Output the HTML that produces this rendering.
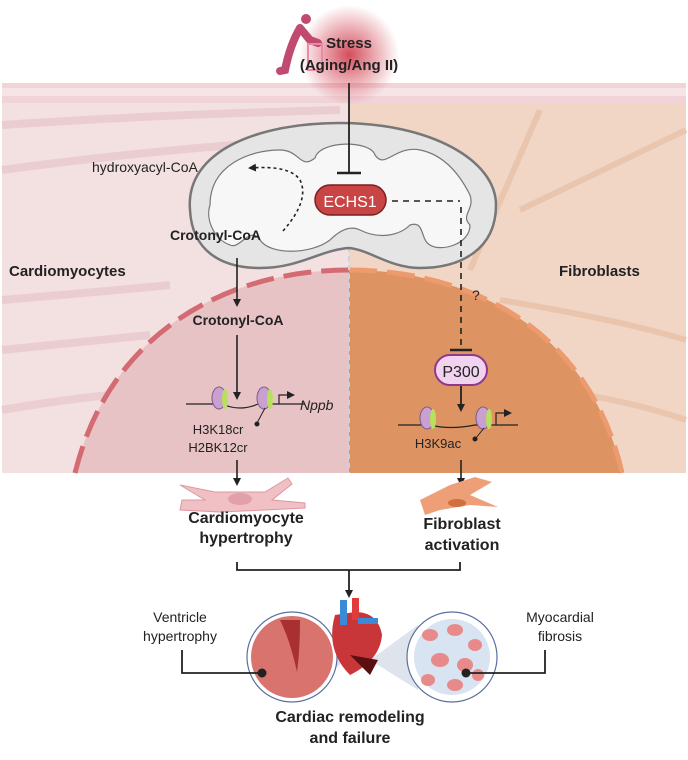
<!DOCTYPE html>
<html><head><meta charset="utf-8"><style>
body{margin:0;background:#fff}
svg text{font-family:"Liberation Sans",sans-serif}
</style></head><body>
<svg width="688" height="755" viewBox="0 0 688 755" xmlns="http://www.w3.org/2000/svg">
<defs>
<radialGradient id="glow"><stop offset="0" stop-color="#d03a4a" stop-opacity=".9"/><stop offset="1" stop-color="#d03a4a" stop-opacity="0"/></radialGradient>
<marker id="ah" markerWidth="8" markerHeight="8" refX="6" refY="4" orient="auto" markerUnits="userSpaceOnUse"><path d="M0,0 L8,4 L0,8z" fill="#222"/></marker>
<clipPath id="nuc"><path d="M75,473 C110,330 230,270 349,270 C470,270 590,330 622,473Z"/></clipPath>
</defs>
<!-- top band -->
<rect x="2" y="83" width="684" height="20" fill="#f0d4d8"/>
<rect x="2" y="88" width="684" height="8" fill="#f6e4e6"/>
<!-- panels -->
<rect x="2" y="103" width="347" height="370" fill="#f3e0e1"/>
<rect x="349" y="103" width="337" height="370" fill="#f1d6c6"/>
<g stroke="#e9c9cc" stroke-width="8" fill="none" opacity=".8">
<path d="M2,125 Q150,115 340,110"/><path d="M2,170 Q150,150 300,140"/><path d="M2,300 Q120,290 170,285"/><path d="M2,350 Q100,340 150,335"/><path d="M2,410 Q60,400 110,395"/>
</g>
<g stroke="#e9c2a8" stroke-width="6" fill="none" opacity=".8">
<path d="M470,270 L540,110"/><path d="M520,210 L686,130"/><path d="M460,380 Q600,390 686,420"/><path d="M500,300 Q620,320 686,340"/>
</g>
<!-- nucleus -->
<g clip-path="url(#nuc)"><rect x="0" y="260" width="349" height="220" fill="#e8c3c5"/><rect x="349" y="260" width="340" height="220" fill="#de9462"/></g>
<path d="M75,473 C110,330 230,270 349,270" fill="none" stroke="#d46a72" stroke-width="5" stroke-dasharray="28,10"/>
<path d="M349,270 C470,270 590,330 622,473" fill="none" stroke="#ed9a6e" stroke-width="5" stroke-dasharray="28,10"/>
<line x1="349" y1="103" x2="349" y2="473" stroke="#c9d3e0" stroke-width="2" stroke-dasharray="5,4"/>
<!-- mitochondrion -->
<path d="M190,210 C185,150 260,123 340,123 C430,123 496,160 496,205 C496,250 460,268 420,268 C390,268 370,250 349,248 C320,250 300,268 260,268 C220,268 192,250 190,210Z" fill="#e5e5e5" stroke="#777" stroke-width="2.5"/>
<path d="M210,205 C210,165 250,150 280,150 C300,150 300,170 315,158 C320,140 370,140 375,155 C385,170 395,145 420,150 C445,155 460,175 470,195 C475,210 460,215 470,225 C470,245 440,252 430,245 C420,240 425,220 410,225 C400,235 380,240 360,230 C350,225 340,230 330,240 C310,255 270,255 260,240 C250,225 240,250 230,245 C215,240 205,220 210,205Z" fill="#f7f7f7" stroke="#777" stroke-width="1.2"/>
<!-- stress -->
<circle cx="349" cy="55" r="50" fill="url(#glow)"/>
<circle cx="306" cy="19" r="5" fill="#c04a70"/>
<path d="M300,28 Q290,45 285,70 L280,71 M300,28 L310,40 L318,43" stroke="#c04a70" stroke-width="8" fill="none" stroke-linecap="round"/>
<rect x="308" y="44" width="14" height="26" fill="none" stroke="#e88aa8" stroke-width="2"/>
<text x="349" y="48" text-anchor="middle" font-size="15" font-weight="bold" fill="#222">Stress</text>
<text x="349" y="70" text-anchor="middle" font-size="15" font-weight="bold" fill="#222">(Aging/Ang II)</text>
<line x1="349" y1="83" x2="349" y2="173" stroke="#222" stroke-width="1.8"/>
<line x1="337" y1="173" x2="361" y2="173" stroke="#222" stroke-width="2.5"/>
<rect x="315" y="185" width="71" height="30" rx="15" fill="#c94545" stroke="#7a1f1f" stroke-width="1.5"/>
<text x="350" y="207" text-anchor="middle" font-size="16" fill="#fff">ECHS1</text>
<text x="92" y="172" font-size="14" fill="#222">hydroxyacyl-CoA</text>
<path d="M283,231 Q310,200 300,180 Q290,165 250,168" fill="none" stroke="#222" stroke-width="1.6" stroke-dasharray="3,3" marker-end="url(#ah)"/>
<text x="170" y="240" font-size="14" font-weight="bold" fill="#222">Crotonyl-CoA</text>
<text x="9" y="276" font-size="15" font-weight="bold" fill="#222">Cardiomyocytes</text>
<text x="559" y="276" font-size="15" font-weight="bold" fill="#222">Fibroblasts</text>
<!-- right dashed -->
<path d="M392,201 L460,201 M461,207 L461,350" fill="none" stroke="#222" stroke-width="1.6" stroke-dasharray="6,5"/>
<line x1="450" y1="350" x2="472" y2="350" stroke="#222" stroke-width="2.5"/>
<text x="472" y="300" font-size="14" fill="#222">?</text>
<rect x="435" y="355" width="52" height="30" rx="15" fill="#f1d3ef" stroke="#8c3a8c" stroke-width="2"/>
<text x="461" y="377" text-anchor="middle" font-size="16" fill="#222">P300</text>
<line x1="461" y1="386" x2="461" y2="410" stroke="#222" stroke-width="1.8" marker-end="url(#ah)"/>
<!-- left arrows -->
<line x1="237" y1="258" x2="237" y2="305" stroke="#222" stroke-width="1.6" marker-end="url(#ah)"/>
<text x="238" y="325" text-anchor="middle" font-size="14" font-weight="bold" fill="#222">Crotonyl-CoA</text>
<line x1="237" y1="335" x2="237" y2="398" stroke="#222" stroke-width="1.6" marker-end="url(#ah)"/>
<!-- nucleosomes left -->
<path d="M186,404 L222,404 Q240,412 258,404 L305,404" fill="none" stroke="#222" stroke-width="1.2"/>
<ellipse cx="219" cy="398" rx="7" ry="11" fill="#c9a0d0" stroke="#7a5a8a"/><ellipse cx="225" cy="399" rx="3" ry="10" fill="#b8e060"/>
<ellipse cx="264" cy="398" rx="7" ry="11" fill="#c9a0d0" stroke="#7a5a8a"/><ellipse cx="270" cy="399" rx="3" ry="10" fill="#b8e060"/>
<path d="M279,404 L279,395 L293,395" fill="none" stroke="#222" stroke-width="1.2" marker-end="url(#ah)"/>
<text x="300" y="410" font-size="14" font-style="italic" fill="#222">Nppb</text>
<path d="M265,408 L257,423" stroke="#222"/><circle cx="257" cy="424" r="2.5" fill="#222"/>
<text x="218" y="434" text-anchor="middle" font-size="13" fill="#222">H3K18cr</text>
<text x="218" y="452" text-anchor="middle" font-size="13" fill="#222">H2BK12cr</text>
<!-- nucleosomes right -->
<path d="M398,425 L430,425 Q450,430 475,425 L518,425" fill="none" stroke="#222" stroke-width="1.2"/>
<ellipse cx="427" cy="418" rx="7" ry="11" fill="#c9a0d0" stroke="#7a5a8a"/><ellipse cx="433" cy="419" rx="3" ry="10" fill="#b8e060"/>
<ellipse cx="483" cy="418" rx="7" ry="11" fill="#c9a0d0" stroke="#7a5a8a"/><ellipse cx="489" cy="419" rx="3" ry="10" fill="#b8e060"/>
<path d="M496,425 L496,413 L510,413" fill="none" stroke="#222" stroke-width="1.2" marker-end="url(#ah)"/>
<path d="M484,428 L476,438" stroke="#222"/><circle cx="475" cy="439" r="2.5" fill="#222"/>
<text x="438" y="448" text-anchor="middle" font-size="13" fill="#222">H3K9ac</text>
<!-- down arrows -->
<line x1="237" y1="460" x2="237" y2="484" stroke="#222" stroke-width="1.6" marker-end="url(#ah)"/>
<line x1="461" y1="460" x2="461" y2="484" stroke="#222" stroke-width="1.6" marker-end="url(#ah)"/>
<!-- cells -->
<path d="M180,485 L215,492 L265,492 L288,478 L292,484 L272,500 L305,503 L305,508 L265,510 L220,512 L180,510 L182,500 L205,500Z" fill="#f0c0c5" stroke="#dc98a0"/>
<ellipse cx="240" cy="499" rx="12" ry="6" fill="#e2a0aa"/>
<path d="M420,500 L450,485 L475,477 L492,482 L470,495 L498,507 L470,505 L440,510 L425,515Z" fill="#ef9f78"/>
<ellipse cx="457" cy="503" rx="9" ry="4" fill="#d07040"/>
<text x="246" y="523" text-anchor="middle" font-size="16" font-weight="bold" fill="#222">Cardiomyocyte</text>
<text x="246" y="543" text-anchor="middle" font-size="16" font-weight="bold" fill="#222">hypertrophy</text>
<text x="462" y="529" text-anchor="middle" font-size="16" font-weight="bold" fill="#222">Fibroblast</text>
<text x="462" y="550" text-anchor="middle" font-size="16" font-weight="bold" fill="#222">activation</text>
<path d="M237,562 L237,570 L460,570 L460,562" fill="none" stroke="#222" stroke-width="1.8"/>
<line x1="349" y1="570" x2="349" y2="596" stroke="#222" stroke-width="1.8" marker-end="url(#ah)"/>
<!-- zoom cones -->
<polygon points="330,640 300,700 345,660" fill="#c8d0e0" opacity=".6"/>
<polygon points="370,660 418,625 418,690" fill="#c8d0e0" opacity=".6"/>
<!-- circles -->
<circle cx="292" cy="657" r="45" fill="#fff" stroke="#5a6fa0" stroke-width="1.2"/>
<circle cx="292" cy="657" r="41" fill="#d9736e"/>
<path d="M280,620 Q290,640 297,672 Q300,650 300,620Z" fill="#a83030"/>
<circle cx="452" cy="657" r="45" fill="#fff" stroke="#5a6fa0" stroke-width="1.2"/>
<circle cx="452" cy="657" r="38" fill="#d8e4f2"/>
<g fill="#e88a8a"><ellipse cx="430" cy="635" rx="8" ry="6"/><ellipse cx="455" cy="630" rx="8" ry="6"/><ellipse cx="475" cy="645" rx="7" ry="6"/><ellipse cx="440" cy="660" rx="9" ry="7"/><ellipse cx="465" cy="665" rx="8" ry="7"/><ellipse cx="428" cy="680" rx="7" ry="6"/><ellipse cx="455" cy="685" rx="8" ry="6"/><ellipse cx="478" cy="675" rx="6" ry="6"/></g>
<!-- heart -->
<path d="M335,615 Q325,650 350,675 Q380,660 382,635 Q378,612 355,612Z" fill="#c8363a"/>
<rect x="340" y="600" width="7" height="25" fill="#3a8ad8"/>
<rect x="352" y="598" width="7" height="22" fill="#e23b3b"/>
<rect x="358" y="618" width="20" height="6" fill="#3a8ad8"/>
<path d="M350,655 L370,675 L378,660Z" fill="#5a1010"/>
<!-- connectors -->
<path d="M182,650 L182,673 L262,673" fill="none" stroke="#222" stroke-width="1.8"/>
<circle cx="262" cy="673" r="4.5" fill="#222"/>
<path d="M545,650 L545,673 L466,673" fill="none" stroke="#222" stroke-width="1.8"/>
<circle cx="466" cy="673" r="4.5" fill="#222"/>
<text x="180" y="622" text-anchor="middle" font-size="14" fill="#222">Ventricle</text>
<text x="180" y="641" text-anchor="middle" font-size="14" fill="#222">hypertrophy</text>
<text x="560" y="622" text-anchor="middle" font-size="14" fill="#222">Myocardial</text>
<text x="560" y="641" text-anchor="middle" font-size="14" fill="#222">fibrosis</text>
<text x="350" y="722" text-anchor="middle" font-size="16" font-weight="bold" fill="#222">Cardiac remodeling</text>
<text x="350" y="743" text-anchor="middle" font-size="16" font-weight="bold" fill="#222">and failure</text>
</svg>
</body></html>
